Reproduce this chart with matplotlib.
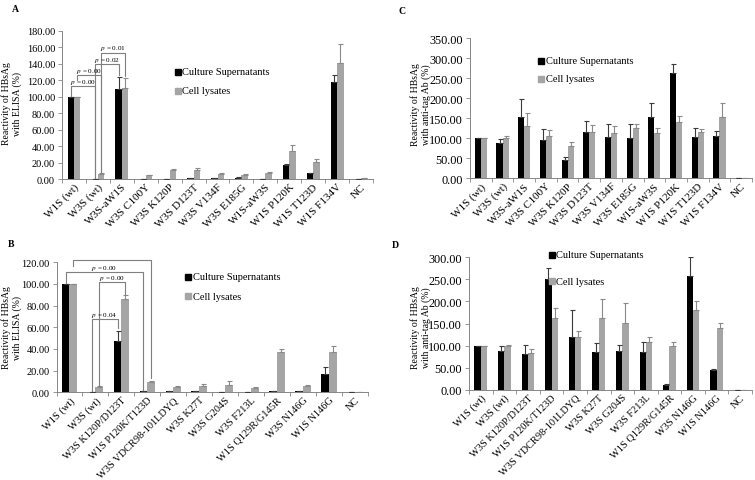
import numpy as np
import matplotlib
matplotlib.use('Agg')
import matplotlib.pyplot as plt
from matplotlib.ticker import FormatStrFormatter, FixedLocator

plt.rcParams['font.family'] = ['Liberation Serif', 'DejaVu Serif']
plt.rcParams['mathtext.fontset'] = 'stix'

# ── data ──────────────────────────────────────────────────────────────────────
ac_names = ['W1S (wt)', 'W3S (wt)', 'W3S-aW1S', 'W3S C100Y', 'W3S K120P', 'W3S D123T',
            'W3S V134F', 'W3S E185G', 'W1S-aW3S', 'W1S P120K', 'W1S T123D', 'W1S F134V', 'NC']
bd_names = ['W1S (wt)', 'W3S (wt)', 'W3S K120P/D123T', 'W1S P120K/T123D', 'W3S VDCR98-101LDYQ',
            'W3S K27T', 'W3S G204S', 'W3S F213L', 'W1S Q129R/G145R', 'W3S N146G', 'W1S N146G', 'NC']

# A: ELISA
a_sup = [100, 0.5, 109, 0.3, 0.3, 1.5, 1.5, 1.5, 0.5, 17, 7, 118, 0.3]
a_sup_err = [0, 0, 15, 0, 0, 0, 0.3, 1.2, 0, 1, 0.4, 8, 0]
a_lys = [100, 6.5, 111, 4.5, 11.3, 11, 6, 5, 7.3, 34.5, 21, 141, 1]
a_lys_err = [0, 1, 12, 0.5, 0.4, 2, 1, 1, 0.8, 6.5, 3, 23, 0.3]

# B: ELISA
b_sup = [100, 0.5, 47, 1, 1.2, 1, 0.6, 0.6, 1.2, 0.9, 17, 0.5]
b_sup_err = [0, 0, 10, 0.2, 0.2, 0.2, 0, 0, 0.2, 0.2, 6, 0]
b_lys = [100, 5, 86, 9.2, 5, 5.5, 7, 4, 37, 6, 37.5, 0.5]
b_lys_err = [0, 0.5, 3.5, 1.6, 0.5, 2.2, 3, 1.2, 3, 0.5, 5.5, 0]

# C: anti-tag Ab
c_sup = [100, 88, 152.5, 97, 47, 117, 102.5, 101, 152.5, 263, 103, 105, 0]
c_sup_err = [0, 10, 45.5, 26, 6, 25.5, 34.5, 36, 35, 24, 24, 12.5, 0]
c_lys = [100, 101, 130, 105, 81, 117, 113, 125, 114, 140, 117, 154, 0]
c_lys_err = [0, 4, 32.5, 15, 10, 17, 19, 12, 11, 15, 6, 33.5, 0]

# D: anti-tag Ab
d_sup = [100, 88, 82, 250, 120, 86.5, 87, 86, 10.5, 257, 44, 0]
d_sup_err = [0, 10, 20, 26, 60, 18.5, 15, 21, 2.5, 44, 4, 0]
d_lys = [100, 99, 84, 162, 119, 162, 151, 107, 98.5, 181, 140, 0]
d_lys_err = [0, 3, 8.5, 22, 13, 42.5, 46, 13, 8.5, 20, 12, 0]

# p-value brackets: (left cat, left series, right cat, right series, top, left end, right end, label)
a_brackets = [(0, 0, 1, 0, 112.5, 101, 1.5, 'p = 0.00'),
              (0, 1, 1, 1, 126, 120, 8, 'p = 0.00'),
              (1, 0, 2, 0, 139.5, 1.5, 126, 'p = 0.02'),
              (1, 1, 2, 1, 153.5, 8, 125, 'p = 0.01')]
b_brackets = [(0, 1, 3, 1, 122.5, 117, 13, 'p = 0.00'),
              (0, 0, 3, 0, 111, 101, 2, 'p = 0.00'),
              (1, 1, 2, 1, 101.5, 6, 91, 'p = 0.00'),
              (1, 0, 2, 0, 67.5, 1, 59, 'p = 0.04')]

BLACK = '#000000'
GRAY = '#a5a5a5'
SPINE = '#868686'
W, H = 755, 481


def px_axes(left, top, right, bottom):
    return fig.add_axes([left / W, 1 - bottom / H, (right - left) / W, (bottom - top) / H])


def draw_panel(ax, names, sup, sup_err, lys, lys_err, ymax, ystep, bw, ytick_size,
               xtick_size, brackets=None):
    x = np.arange(len(names))
    ax.bar(x - bw / 2, sup, bw, color=BLACK, label='Culture Supernatants', zorder=2)
    ax.bar(x + bw / 2, lys, bw, color=GRAY, label='Cell lysates', zorder=2)
    ax.errorbar(x - bw / 2, sup, yerr=[np.zeros(len(sup)), sup_err], fmt='none',
                ecolor='#3a3a3a', elinewidth=0.8, capsize=1.8, capthick=0.8, zorder=3)
    ax.errorbar(x + bw / 2, lys, yerr=[np.zeros(len(lys)), lys_err], fmt='none',
                ecolor='#8a8a8a', elinewidth=0.8, capsize=1.8, capthick=0.8, zorder=3)

    ax.set_xlim(-0.5, len(names) - 0.5)
    ax.set_ylim(0, ymax)
    ax.set_yticks(np.arange(0, ymax + 0.1, ystep))
    ax.yaxis.set_major_formatter(FormatStrFormatter('%.2f'))
    ax.set_xticks(x)
    ax.set_xticklabels(names, rotation=45, ha='right', rotation_mode='anchor',
                       fontsize=xtick_size)
    ax.xaxis.set_minor_locator(FixedLocator(np.arange(-0.5, len(names), 1)))
    ax.tick_params(axis='x', which='major', length=0, pad=2)
    ax.tick_params(axis='x', which='minor', length=3, color=SPINE, width=0.6)
    ax.tick_params(axis='y', labelsize=ytick_size, length=3, color=SPINE, width=0.6, pad=2)
    for s in ['top', 'right']:
        ax.spines[s].set_visible(False)
    for s in ['left', 'bottom']:
        ax.spines[s].set_color(SPINE)
        ax.spines[s].set_linewidth(0.7)

    if brackets:
        for c1, s1, c2, s2, top, e1, e2, lab in brackets:
            x1 = c1 + (s1 - 0.5) * bw
            x2 = c2 + (s2 - 0.5) * bw
            ax.plot([x1, x1, x2, x2], [e1, top, top, e2], color='#7f7f7f', lw=0.8,
                    zorder=4, clip_on=False)
            ax.annotate(lab.replace('p', '$p$', 1), ((x1 + x2) / 2, top),
                        xytext=(0, 3.4), textcoords='offset points',
                        ha='center', va='center', fontsize=5.2, zorder=5)


def draw_legend(px_x, px_y1, px_y2):
    # positions given in figure pixels
    for yy, col, lab in [(px_y1, BLACK, 'Culture Supernatants'), (px_y2, GRAY, 'Cell lysates')]:
        fig.lines.append(plt.Line2D([px_x / W], [1 - yy / H], marker='s', ms=3.8, color=col,
                                    linestyle='none', transform=fig.transFigure))
        fig.text((px_x + 4.5) / W, 1 - yy / H, lab, ha='left', va='center', fontsize=7.5)


def draw_ylabel(text, px_x, px_y):
    fig.text(px_x / W, 1 - px_y / H, text, rotation=90, ha='center', va='center',
             fontsize=7, linespacing=1.15, multialignment='center')


fig = plt.figure(figsize=(W / 100, H / 100), dpi=100)

# A
axA = px_axes(62, 31.7, 373, 180)
draw_panel(axA, ac_names, a_sup, a_sup_err, a_lys, a_lys_err, 180, 20, 0.27, 7.5, 8,
           a_brackets)
draw_legend(178, 73, 92)
draw_ylabel('Reactivity of HBsAg\nwith ELISA (%)', 12, 104)

# C
axC = px_axes(470, 39.3, 752, 179.3)
draw_panel(axC, ac_names, c_sup, c_sup_err, c_lys, c_lys_err, 350, 50, 0.28, 8.8, 8)
draw_legend(541, 61.7, 80)
draw_ylabel('Reactivity of HBsAg\nwith anti-tag Ab (%)', 421, 105)

# B
axB = px_axes(56.5, 263.3, 368, 393.3)
draw_panel(axB, bd_names, b_sup, b_sup_err, b_lys, b_lys_err, 120, 20, 0.3, 7.5, 7.5,
           b_brackets)
draw_legend(188, 277.7, 297.3)
draw_ylabel('Reactivity of HBsAg\nwith ELISA (%)', 12, 328)

# D
axD = px_axes(469, 258.3, 752, 390.7)
draw_panel(axD, bd_names, d_sup, d_sup_err, d_lys, d_lys_err, 300, 50, 0.27, 8.8, 7.5)
draw_legend(552, 255.7, 282.3)
draw_ylabel('Reactivity of HBsAg\nwith anti-tag Ab (%)', 421, 328)

for lab, xx, yy in [('A', 12, 9), ('C', 398, 12), ('B', 8, 245), ('D', 392, 246)]:
    fig.text(xx / W, 1 - yy / H, lab, fontsize=7, fontweight='bold', ha='left', va='center')

fig.savefig('out.png', dpi=100)
